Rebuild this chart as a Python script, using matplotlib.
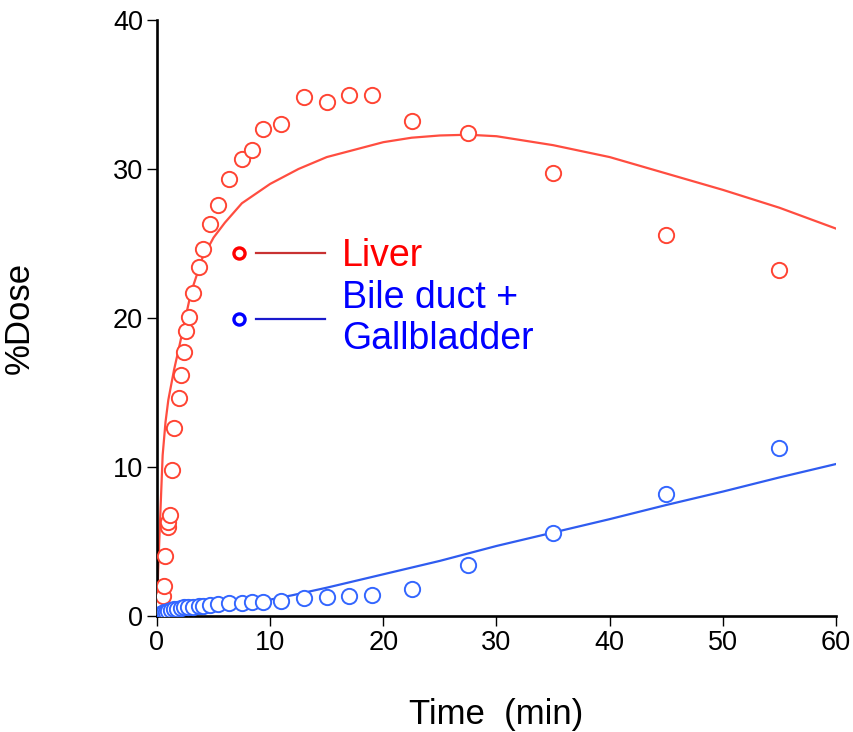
import matplotlib
matplotlib.use("Agg")
import matplotlib.pyplot as plt
from matplotlib.lines import Line2D
from matplotlib.legend_handler import HandlerBase

plt.rcParams['font.family'] = ['Liberation Sans', 'DejaVu Sans']

# ---- data ----
liver_t = [0.1, 0.4, 0.55, 0.6, 0.7, 0.95, 1.0, 1.15, 1.3, 1.5, 1.9, 2.1, 2.4, 2.6,
           2.8, 3.2, 3.7, 4.1, 4.7, 5.4, 6.4, 7.5, 8.4, 9.4, 11.0, 13.0, 15.0, 17.0,
           19.0, 22.5, 27.5, 35.0, 45.0, 55.0]
liver_y = [0.2, 0.75, 1.35, 2.0, 4.0, 6.0, 6.3, 6.8, 9.8, 12.6, 14.6, 16.2, 17.7, 19.1,
           20.1, 21.7, 23.4, 24.6, 26.3, 27.6, 29.3, 30.7, 31.3, 32.7, 33.0, 34.8, 34.5,
           35.0, 35.0, 33.2, 32.4, 29.7, 25.6, 23.2]

bile_t = [0.1, 0.2, 0.3, 0.4, 0.5, 0.6, 0.8, 1.0, 1.2, 1.5, 1.8, 2.1, 2.4, 2.7, 3.2,
          3.7, 4.1, 4.7, 5.4, 6.4, 7.5, 8.4, 9.4, 11.0, 13.0, 15.0, 17.0, 19.0, 22.5,
          27.5, 35.0, 45.0, 55.0]
bile_y = [0.05, 0.1, 0.12, 0.15, 0.2, 0.25, 0.3, 0.35, 0.4, 0.45, 0.5, 0.55, 0.58,
          0.6, 0.63, 0.66, 0.7, 0.73, 0.78, 0.85, 0.88, 0.92, 0.95, 1.0, 1.2, 1.3, 1.35,
          1.4, 1.8, 3.4, 5.6, 8.2, 11.3]

# fitted curves
liver_fit_t = [0, 0.1, 0.25, 0.5, 0.75, 1.0, 1.5, 2, 3, 4, 5, 6, 7.5, 10, 12.5, 15,
               17.5, 20, 22.5, 25, 27.5, 30, 35, 40, 45, 50, 55, 60]
liver_fit_y = [0, 3.0, 6.0, 10.8, 13.0, 14.5, 16.5, 18.2, 21.7, 24.0, 25.4, 26.4, 27.7,
               29.0, 30.0, 30.8, 31.3, 31.8, 32.1, 32.25, 32.3, 32.2, 31.6, 30.8, 29.7,
               28.6, 27.4, 26.0]

bile_fit_t = [0, 1, 2, 4, 6, 8, 10, 12, 15, 20, 25, 30, 35, 40, 45, 50, 55, 60]
bile_fit_y = [0, 0.2, 0.35, 0.55, 0.75, 0.95, 1.1, 1.4, 1.9, 2.8, 3.7, 4.7, 5.6, 6.5,
              7.45, 8.35, 9.3, 10.2]

x_ticks = [0, 10, 20, 30, 40, 50, 60]
y_ticks = [0, 10, 20, 30, 40]

series_labels = ["Liver", "Bile duct +\nGallbladder"]

RED_PT = "#ff4433"
BLUE_PT = "#3366ff"
RED_FIT = "#ff4d40"
BLUE_FIT = "#2f5cf0"

fig = plt.figure(figsize=(8.54, 7.32), dpi=100)
ax = fig.add_axes([157/854, 116/732, 679/854, 596/732])

ax.plot(liver_fit_t, liver_fit_y, color=RED_FIT, lw=1.6, zorder=2)
ax.plot(bile_fit_t, bile_fit_y, color=BLUE_FIT, lw=1.6, zorder=2)
ax.plot(liver_t, liver_y, 'o', ms=11, mfc='white', mec=RED_PT, mew=1.4, zorder=3)
ax.plot(bile_t, bile_y, 'o', ms=11, mfc='white', mec=BLUE_PT, mew=1.4, zorder=4)

ax.set_xlim(0, 60)
ax.set_ylim(0, 40)
ax.set_xticks(x_ticks)
ax.set_yticks(y_ticks)
ax.tick_params(labelsize=19.5, length=7, width=1.0, direction='out', pad=3)
for s in ['top', 'right']:
    ax.spines[s].set_visible(False)
for s in ['left', 'bottom']:
    ax.spines[s].set_linewidth(1.9)

ax.set_xlabel("Time  (min)", fontsize=25)
ax.set_ylabel("%Dose", fontsize=25)
ax.xaxis.set_label_coords(0.5, -0.138)
ax.yaxis.set_label_coords(-0.178, 0.5)


class MarkerLineHandler(HandlerBase):
    def __init__(self, mcolor, lcolor):
        super().__init__()
        self.mcolor = mcolor
        self.lcolor = lcolor

    def create_artists(self, legend, orig_handle, xdescent, ydescent, width,
                       height, fontsize, trans):
        y = height / 2 - ydescent
        x0 = -xdescent
        mk = Line2D([x0 + 0.08 * width], [y], marker='o', ms=8, mfc='white',
                    mec=self.mcolor, mew=2.4, ls='none', transform=trans)
        ln = Line2D([x0 + 0.26 * width, x0 + width], [y, y], color=self.lcolor,
                    lw=1.6, transform=trans)
        return [mk, ln]


h1 = Line2D([], [])
h2 = Line2D([], [])
leg = ax.legend([h1, h2], series_labels,
                handler_map={h1: MarkerLineHandler("#ff0000", "#c83232"),
                             h2: MarkerLineHandler("#0000ff", "#1a1acc")},
                loc='upper left', bbox_to_anchor=(0.11, 0.634), frameon=False,
                fontsize=27, handlelength=2.5, handletextpad=0.45,
                labelspacing=0.15, borderpad=0, borderaxespad=0)
for txt, c in zip(leg.get_texts(), ["#ff0000", "#0000ff"]):
    txt.set_color(c)

fig.savefig("out.png", dpi=100)
